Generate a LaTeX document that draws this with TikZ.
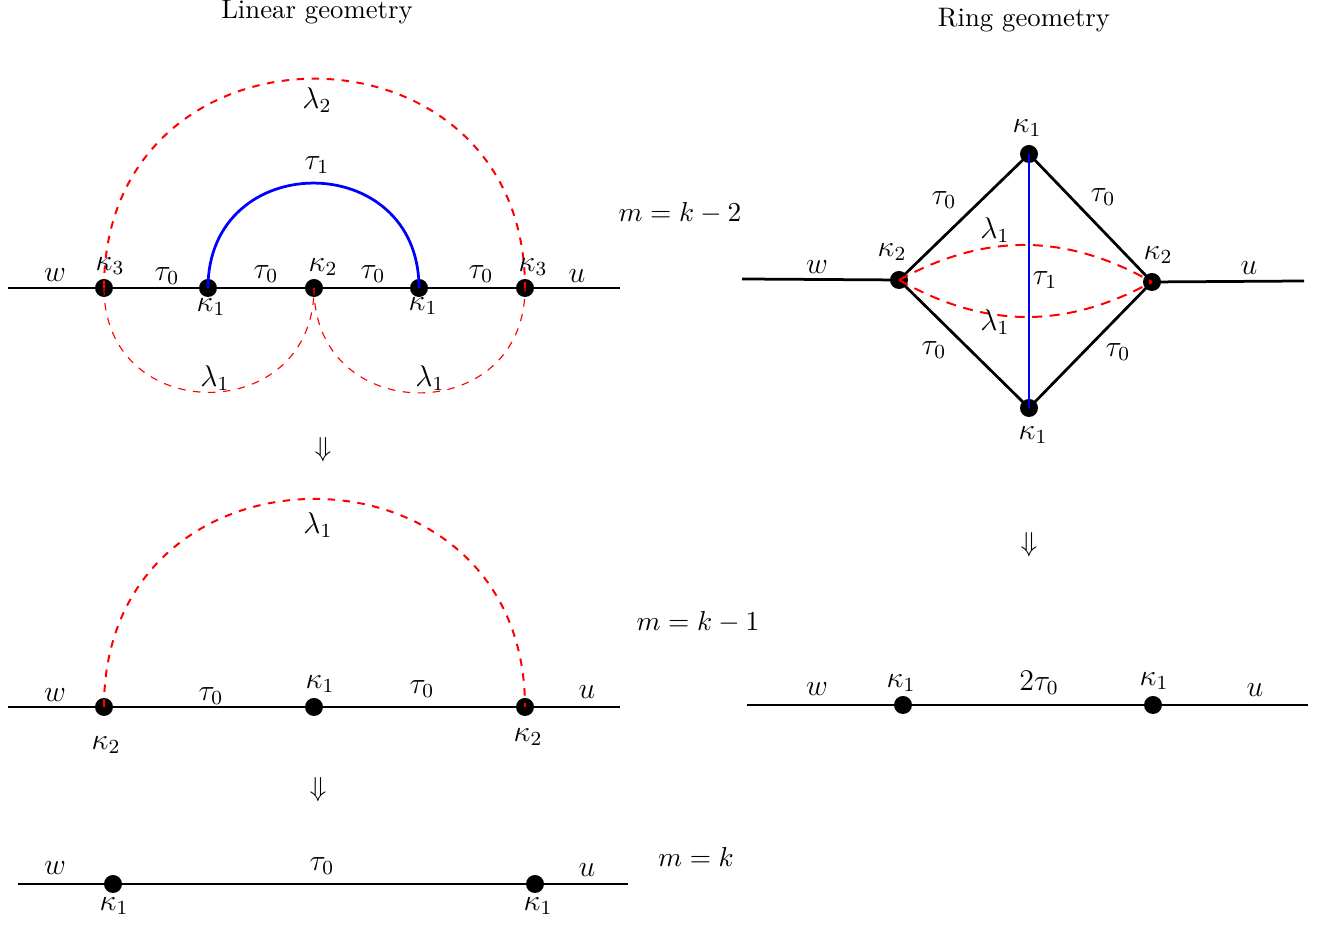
\documentclass[tikz,border=0pt]{standalone}
\usetikzlibrary{positioning}

\begin{document}
\begin{tikzpicture}[x=4pt, y=4pt,
  vtx/.style={circle, fill=black, minimum size=7.2pt, inner sep=0pt},
  wire/.style={line width=1.1pt, black},
  bond/.style={line width=1.1pt, blue},
  loopA/.style={red, dashed, line width=0.8pt},
  loopB/.style={red, dashed, line width=0.45pt},
  lbl/.style={inner sep=0pt, font=\large},
  ttl/.style={inner sep=0pt, font=\fontsize{10.7}{13}\selectfont}
]
\useasboundingbox (0,0) rectangle (132.8,92.8);

% titles and steps
\node[ttl] (tlin) at (31.7,91.6) {Linear geometry};
\node[ttl] (tring) at (102.4,90.8) {Ring geometry};
\node[ttl] (mtwo) at (68.0,71.5) {$m=k-2$};
\node[ttl] (mone) at (69.8,30.6) {$m=k-1$};
\node[ttl] (mzero) at (69.6,7.1) {$m=k$};
\node[ttl] (downA) at (32.3,47.8) {$\Downarrow$};
\node[ttl] (downB) at (31.8,13.8) {$\Downarrow$};
\node[ttl] (downC) at (102.9,38.3) {$\Downarrow$};

% linear, m=k-2
\coordinate (aw) at (0.8,64.0);
\coordinate (au) at (62.0,64.0);
\node[vtx] (a1) at (10.4,64.0) {};
\node[vtx] (a2) at (20.8,64.0) {};
\node[vtx] (a3) at (31.4,64.0) {};
\node[vtx] (a4) at (41.9,64.0) {};
\node[vtx] (a5) at (52.5,64.0) {};
\draw[wire] (aw) -- (a1.center) -- (a2.center) -- (a3.center) -- (a4.center) -- (a5.center) -- (au);
\draw[bond] (a2.center) to[out=90, in=90, looseness=1.7] (a4.center);
\draw[loopA] (a1.center) to[out=90, in=90, looseness=1.7] (a5.center);
\draw[loopB] (a1.center) to[out=-90, in=-90, looseness=1.7] (a3.center);
\draw[loopB] (a3.center) to[out=-90, in=-90, looseness=1.7] (a5.center);
\node[lbl] at (5.5,65.3) {$w$};
\node[lbl] at (11.0,66.2) {$\kappa_3$};
\node[lbl] at (16.7,65.2) {$\tau_0$};
\node[lbl] at (21.1,62.1) {$\kappa_1$};
\node[lbl] at (26.6,65.4) {$\tau_0$};
\node[lbl] at (32.3,66.1) {$\kappa_2$};
\node[lbl] at (37.3,65.4) {$\tau_0$};
\node[lbl] at (42.3,62.2) {$\kappa_1$};
\node[lbl] at (48.1,65.4) {$\tau_0$};
\node[lbl] at (53.3,66.1) {$\kappa_3$};
\node[lbl] at (57.7,65.2) {$u$};
\node[lbl] at (31.7,82.8) {$\lambda_2$};
\node[lbl] at (31.7,76.3) {$\tau_1$};
\node[lbl] at (21.5,55.0) {$\lambda_1$};
\node[lbl] at (43.0,55.0) {$\lambda_1$};

% linear, m=k-1
\coordinate (bw) at (0.8,22.1);
\coordinate (bu) at (62.0,22.1);
\node[vtx] (b1) at (10.4,22.1) {};
\node[vtx] (b2) at (31.4,22.1) {};
\node[vtx] (b3) at (52.5,22.1) {};
\draw[wire] (bw) -- (b1.center) -- (b2.center) -- (b3.center) -- (bu);
\draw[loopA] (b1.center) to[out=90, in=90, looseness=1.69] (b3.center);
\node[lbl] at (5.5,23.3) {$w$};
\node[lbl] at (10.6,18.3) {$\kappa_2$};
\node[lbl] at (21.1,23.2) {$\tau_0$};
\node[lbl] at (32.0,24.4) {$\kappa_1$};
\node[lbl] at (42.2,23.9) {$\tau_0$};
\node[lbl] at (52.8,19.1) {$\kappa_2$};
\node[lbl] at (58.7,23.6) {$u$};
\node[lbl] at (31.8,40.3) {$\lambda_1$};

% linear, m=k
\coordinate (cw) at (1.8,4.4);
\coordinate (cu) at (62.8,4.4);
\node[vtx] (c1) at (11.3,4.4) {};
\node[vtx] (c2) at (53.5,4.4) {};
\draw[wire] (cw) -- (c1.center) -- (c2.center) -- (cu);
\node[lbl] at (5.5,6.0) {$w$};
\node[lbl] at (11.4,2.2) {$\kappa_1$};
\node[lbl] at (32.2,6.2) {$\tau_0$};
\node[lbl] at (53.8,2.2) {$\kappa_1$};
\node[lbl] at (58.7,5.8) {$u$};

% ring
\coordinate (rw) at (74.2,64.9);
\coordinate (ru) at (130.4,64.7);
\node[vtx] (rl) at (89.9,64.8) {};
\node[vtx] (rr) at (115.2,64.6) {};
\node[vtx] (rt) at (102.9,77.4) {};
\node[vtx] (rb) at (102.9,52.0) {};
\draw[wire] (rw) -- (rl.center) -- (rt.center) -- (rr.center) -- (ru);
\draw[wire] (rl.center) -- (rb.center) -- (rr.center);
\draw[bond] (rt.center) -- (rb.center);
\draw[loopA, dash pattern=on 4pt off 3pt] (rl.center) to[bend left=29] (rr.center);
\draw[loopA, dash pattern=on 4pt off 3pt] (rl.center) to[bend right=29] (rr.center);
\node[lbl] at (81.7,66.1) {$w$};
\node[lbl] at (124.9,66.0) {$u$};
\node[lbl] at (102.7,80.0) {$\kappa_1$};
\node[lbl] at (103.3,49.3) {$\kappa_1$};
\node[lbl] at (89.2,67.6) {$\kappa_2$};
\node[lbl] at (115.8,67.3) {$\kappa_2$};
\node[lbl] at (94.4,72.8) {$\tau_0$};
\node[lbl] at (110.3,73.1) {$\tau_0$};
\node[lbl] at (93.4,57.8) {$\tau_0$};
\node[lbl] at (111.8,57.6) {$\tau_0$};
\node[lbl] at (99.5,69.8) {$\lambda_1$};
\node[lbl] at (99.5,60.6) {$\lambda_1$};
\node[lbl] at (104.5,64.8) {$\tau_1$};

% ring, collapsed
\coordinate (sw) at (74.7,22.3);
\coordinate (su) at (130.8,22.3);
\node[vtx] (s1) at (90.3,22.3) {};
\node[vtx] (s2) at (115.3,22.3) {};
\draw[wire] (sw) -- (s1.center) -- (s2.center) -- (su);
\node[lbl] at (81.7,23.9) {$w$};
\node[lbl] at (90.1,24.5) {$\kappa_1$};
\node[lbl] at (103.9,24.5) {$2\tau_0$};
\node[lbl] at (115.4,24.7) {$\kappa_1$};
\node[lbl] at (125.5,23.8) {$u$};
\end{tikzpicture}
\end{document}
